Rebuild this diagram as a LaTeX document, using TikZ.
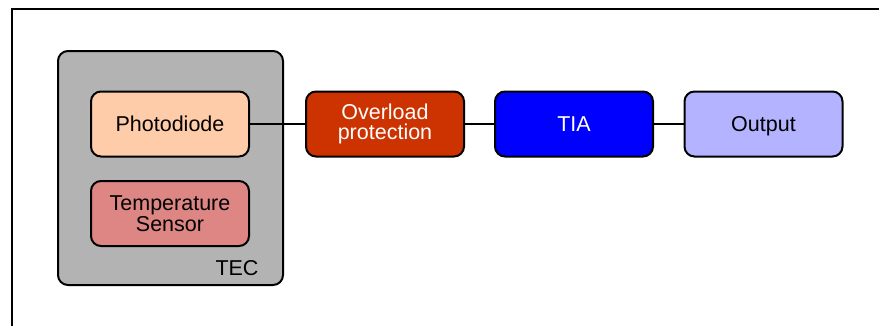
\documentclass[tikz,border=0pt]{standalone}
\usepackage{fontspec}
\setmainfont{Liberation Sans}
\begin{document}
\begin{tikzpicture}[x=1pt,y=-1pt,
  blk/.style={draw=black,line width=2pt,rounded corners=10pt,minimum width=158pt,minimum height=65pt,inner sep=0pt,align=center,font=\fontsize{21.5}{20.5}\selectfont},
  one/.style={text height=17.5pt,text depth=2.5pt},
  conn/.style={draw=black,line width=2pt}]
\useasboundingbox (0,0) rectangle (879,325);
\clip (0,0) rectangle (879,325);
\fill[white] (0,0) rectangle (879,325);
\draw[line width=2.5pt] (12,340) -- (12,9) -- (900,9);
\node[blk,fill={rgb,255:red,179;green,179;blue,179},minimum width=225pt,minimum height=234pt] (tec) at (170.5,168) {};
\node[font=\fontsize{21.5}{20}\selectfont] (teclbl) at (237,268) {TEC};
\definecolor{pd}{RGB}{255,204,170}
\definecolor{ts}{RGB}{221,134,131}
\definecolor{ov}{RGB}{204,51,0}
\definecolor{tia}{RGB}{0,0,255}
\definecolor{outc}{RGB}{179,179,255}
\node[blk,one,fill=pd] (pd) at (170,124) {Photodiode};
\node[blk,fill=ts] (ts) at (170,213.5) {Temperature\\Sensor};
\node[blk,fill=ov,text=white] (ov) at (385,124) {Overload\\protection};
\node[blk,one,fill=tia,text=white] (tia) at (574,124) {TIA};
\node[blk,one,fill=outc] (out) at (763.5,124) {Output};
\draw[conn] (pd) -- (ov);
\draw[conn] (ov) -- (tia);
\draw[conn] (tia) -- (out);
\end{tikzpicture}
\end{document}
